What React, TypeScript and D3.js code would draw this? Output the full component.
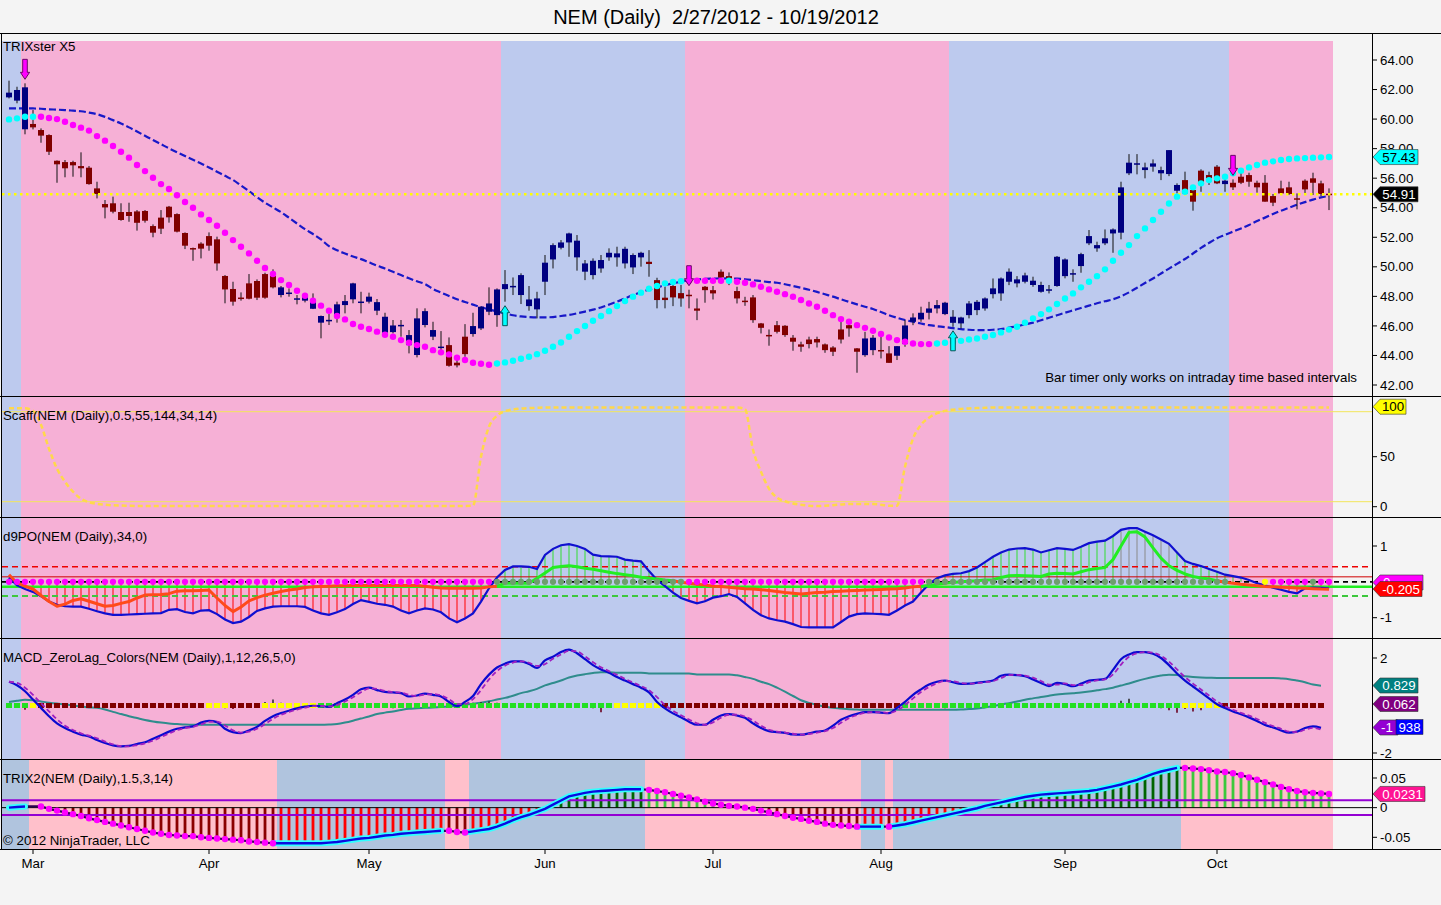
import React from "react";
import * as d3 from "d3";

const FONT = '"Liberation Sans", Arial, Helvetica, sans-serif';
const FS = 13.3;

// ---------- price bars ----------
const OPEN = [
  61.47, 61.25, 59.31, 59.67, 59.26, 58.92, 57.18, 57.09, 57.09, 56.82,
  56.71, 55.31, 54.25, 54.30, 53.71, 53.71, 53.75, 53.78, 52.76, 53.33,
  54.07, 53.57, 52.29, 51.27, 51.57, 52.08, 51.86, 49.38, 48.50, 47.92,
  48.88, 49.04, 49.51, 49.38, 48.09, 48.25, 47.86, 47.71, 47.16, 46.22,
  46.40, 46.74, 47.41, 47.80, 47.64, 47.64, 47.03, 45.54, 45.58, 46.06,
  44.70, 44.03, 46.06, 45.27, 44.59, 44.70, 43.51, 45.27, 45.45, 45.83,
  46.96, 46.73, 48.49, 48.70, 48.09, 47.34, 47.12, 48.99, 50.50, 51.29,
  51.65, 50.64, 49.67, 49.44, 49.89, 50.64, 50.64, 50.23, 49.96, 50.64,
  50.34, 49.10, 47.91, 48.70, 48.22, 48.11, 47.18, 48.65, 48.42, 49.67,
  49.37, 48.36, 47.71, 47.93, 46.17, 45.39, 46.05, 46.01, 45.20, 44.75,
  45.08, 45.11, 44.75, 44.54, 45.76, 46.05, 44.48, 44.02, 44.36, 44.37,
  44.14, 43.98, 44.77, 46.28, 46.44, 46.89, 47.18, 46.80, 46.21, 46.17,
  46.73, 47.07, 47.18, 48.15, 48.20, 48.99, 48.88, 48.99, 48.77, 48.31,
  48.47, 48.70, 49.37, 49.56, 50.05, 51.59, 51.25, 51.59, 52.26, 52.31,
  56.33, 57.00, 56.55, 56.78, 56.33, 56.28, 55.15, 55.87, 55.20, 56.51,
  56.21, 56.78, 55.60, 55.69, 56.10, 56.21, 55.69, 55.69, 54.79, 55.31,
  55.38, 54.64, 55.83, 55.99, 55.65, 54.95,
];
const HIGH = [
  62.60, 62.19, 62.42, 60.61, 59.37, 58.97, 57.20, 57.23, 57.18, 57.75,
  56.82, 55.76, 54.52, 54.75, 54.30, 54.34, 53.84, 53.84, 52.87, 53.84,
  54.12, 53.62, 52.33, 51.30, 51.66, 52.33, 52.04, 49.44, 48.99, 48.27,
  49.51, 49.15, 49.60, 49.83, 48.70, 48.54, 48.09, 48.20, 48.20, 46.70,
  46.80, 47.64, 48.09, 48.92, 48.31, 48.25, 47.82, 46.89, 46.40, 46.40,
  45.72, 47.19, 47.19, 46.28, 45.65, 45.22, 43.73, 46.12, 46.89, 47.32,
  48.61, 48.54, 49.78, 49.28, 49.56, 48.70, 48.31, 50.80, 51.59, 51.81,
  52.31, 52.15, 50.46, 50.57, 50.80, 51.25, 51.36, 51.36, 50.91, 51.02,
  51.13, 49.26, 48.65, 48.88, 48.77, 48.45, 47.86, 48.70, 48.70, 49.82,
  49.62, 48.65, 47.97, 48.09, 46.20, 45.76, 46.33, 46.05, 45.38, 44.93,
  45.27, 45.27, 44.81, 44.63, 46.28, 46.39, 44.50, 45.60, 45.38, 45.27,
  44.63, 44.63, 46.39, 46.85, 47.30, 47.63, 47.75, 47.63, 47.07, 46.62,
  47.68, 47.75, 47.93, 49.21, 49.28, 49.89, 49.37, 49.60, 49.33, 48.99,
  48.77, 50.73, 50.57, 49.83, 50.95, 52.49, 51.70, 52.53, 52.60, 55.76,
  57.63, 57.63, 57.05, 57.27, 56.78, 57.90, 55.65, 56.44, 55.42, 56.60,
  56.44, 56.89, 55.99, 55.92, 56.60, 56.37, 55.83, 56.21, 54.93, 55.83,
  55.76, 54.97, 55.92, 56.37, 55.83, 55.31,
];
const LOW = [
  61.40, 61.07, 58.97, 59.30, 58.40, 57.57, 55.69, 56.06, 56.10, 56.06,
  55.56, 54.63, 53.28, 53.62, 53.12, 53.05, 52.45, 52.99, 52.00, 52.22,
  52.99, 52.33, 51.20, 50.41, 50.57, 51.09, 49.74, 47.53, 47.37, 47.71,
  47.80, 47.75, 47.84, 48.54, 47.93, 47.98, 47.46, 47.59, 47.14, 45.16,
  46.06, 46.22, 46.85, 47.53, 46.85, 47.52, 46.73, 45.38, 45.49, 45.27,
  44.14, 43.87, 45.90, 45.04, 44.25, 43.24, 43.19, 43.91, 45.27, 45.72,
  46.73, 45.94, 47.64, 48.09, 47.48, 47.03, 46.51, 48.09, 49.89, 51.18,
  50.68, 49.74, 49.10, 49.15, 49.60, 50.41, 50.01, 49.89, 49.51, 50.01,
  49.33, 47.19, 47.19, 47.34, 47.30, 47.19, 46.39, 47.57, 47.79, 49.10,
  48.76, 47.52, 47.36, 46.21, 45.49, 44.66, 45.49, 45.26, 44.32, 44.25,
  44.48, 44.54, 44.18, 43.96, 44.81, 45.27, 42.83, 43.91, 44.02, 43.80,
  43.50, 43.69, 44.59, 46.05, 46.28, 46.44, 46.85, 46.73, 45.94, 45.83,
  46.51, 46.73, 47.03, 47.86, 47.70, 48.76, 48.61, 48.88, 48.65, 48.25,
  48.20, 48.65, 49.22, 48.99, 49.60, 51.47, 51.02, 51.47, 50.95, 51.86,
  56.21, 56.26, 55.99, 56.44, 55.87, 56.14, 54.97, 54.93, 53.80, 55.08,
  55.54, 55.60, 55.08, 55.20, 55.60, 55.42, 55.02, 54.41, 54.11, 54.93,
  54.86, 53.89, 54.86, 54.86, 54.79, 53.84,
];
const CLOSE = [
  61.79, 61.97, 62.15, 59.44, 58.88, 57.79, 56.94, 56.67, 56.87, 56.67,
  55.60, 54.93, 54.02, 53.73, 53.17, 53.44, 52.98, 53.12, 52.31, 52.58,
  53.35, 52.38, 51.43, 51.25, 51.23, 51.43, 50.23, 48.47, 47.64, 47.91,
  47.84, 47.91, 47.91, 48.61, 48.61, 48.26, 47.87, 48.02, 47.80, 46.67,
  46.41, 47.46, 47.68, 48.88, 47.65, 47.98, 47.61, 46.62, 46.03, 46.07,
  45.38, 46.51, 47.00, 45.72, 44.60, 43.30, 43.33, 44.09, 45.99, 47.30,
  47.52, 48.47, 48.83, 48.71, 49.44, 47.79, 47.86, 50.28, 51.47, 51.65,
  52.26, 51.77, 50.23, 50.41, 50.46, 50.95, 50.91, 51.22, 50.80, 50.95,
  50.19, 47.75, 47.75, 47.93, 47.86, 48.10, 47.03, 48.42, 48.20, 49.28,
  49.21, 47.86, 47.70, 46.39, 45.87, 45.38, 45.60, 45.38, 44.93, 44.59,
  44.77, 44.88, 44.36, 44.25, 45.08, 45.83, 44.25, 45.15, 45.20, 44.36,
  43.50, 44.63, 46.03, 46.57, 46.89, 47.18, 47.41, 47.57, 46.62, 46.57,
  47.52, 47.63, 47.86, 48.54, 49.21, 49.67, 49.15, 49.42, 49.06, 48.77,
  48.48, 50.68, 50.50, 49.57, 50.86, 52.08, 51.47, 51.93, 52.53, 55.38,
  57.05, 57.01, 56.73, 57.00, 56.55, 57.90, 55.54, 54.97, 54.41, 55.65,
  55.99, 55.65, 55.83, 55.38, 55.69, 55.76, 55.38, 54.41, 54.34, 54.97,
  54.93, 54.63, 55.24, 55.69, 54.93, 54.91,
];

// ---------- TRIXster overlays ----------
const TRIXSTER_MA = [
  60.73, 60.73, 60.73, 60.72, 60.70, 60.66, 60.64, 60.61, 60.57, 60.53,
  60.44, 60.33, 60.15, 59.93, 59.70, 59.44, 59.16, 58.87, 58.58, 58.30,
  58.02, 57.76, 57.50, 57.25, 57.00, 56.72, 56.44, 56.16, 55.88, 55.50,
  55.12, 54.72, 54.34, 54.02, 53.70, 53.32, 52.93, 52.55, 52.22, 51.85,
  51.40, 51.12, 50.90, 50.70, 50.52, 50.30, 50.08, 49.88, 49.66, 49.44,
  49.22, 49.02, 48.84, 48.50, 48.26, 48.03, 47.80, 47.62, 47.44, 47.26,
  47.12, 46.98, 46.86, 46.72, 46.64, 46.60, 46.58, 46.58, 46.60, 46.67,
  46.74, 46.85, 46.97, 47.10, 47.25, 47.44, 47.64, 47.86, 48.09, 48.28,
  48.46, 48.60, 48.76, 48.88, 49.00, 49.08, 49.14, 49.18, 49.20, 49.22,
  49.22, 49.20, 49.16, 49.10, 49.03, 48.97, 48.92, 48.82, 48.70, 48.58,
  48.45, 48.30, 48.14, 47.98, 47.80, 47.63, 47.46, 47.30, 47.15, 46.94,
  46.72, 46.55, 46.40, 46.28, 46.16, 46.05, 45.98, 45.92, 45.85, 45.78,
  45.74, 45.72, 45.72, 45.74, 45.78, 45.88, 45.98, 46.10, 46.22, 46.38,
  46.55, 46.72, 46.89, 47.05, 47.21, 47.37, 47.53, 47.67, 47.80, 48.00,
  48.27, 48.58, 48.90, 49.21, 49.55, 49.88, 50.20, 50.53, 50.90, 51.28,
  51.62, 51.93, 52.16, 52.38, 52.60, 52.83, 53.10, 53.33, 53.57, 53.80,
  54.00, 54.20, 54.38, 54.55, 54.70, 54.79,
];
const TRIXSTER_DOTS = [
  59.98, 60.05, 60.16, 60.16, 60.16, 60.07, 60.00, 59.82, 59.60, 59.42,
  59.22, 58.85, 58.54, 58.18, 57.79, 57.39, 56.89, 56.48, 56.03, 55.60,
  55.27, 54.84, 54.39, 54.00, 53.55, 53.17, 52.78, 52.31, 51.81, 51.36,
  50.91, 50.41, 49.92, 49.51, 49.10, 48.77, 48.38, 48.04, 47.71, 47.37,
  47.03, 46.67, 46.44, 46.13, 45.94, 45.79, 45.61, 45.40, 45.27, 45.04,
  44.86, 44.70, 44.59, 44.36, 44.21, 44.07, 43.85, 43.69, 43.51, 43.44,
  43.37, 43.46, 43.53, 43.64, 43.78, 43.91, 44.09, 44.32, 44.59, 44.88,
  45.27, 45.65, 45.99, 46.35, 46.67, 47.00, 47.34, 47.68, 47.98, 48.25,
  48.52, 48.70, 48.88, 48.97, 49.02, 49.05, 49.06, 49.06, 49.06, 49.06,
  49.06, 48.99, 48.92, 48.81, 48.65, 48.47, 48.31, 48.15, 47.97, 47.75,
  47.52, 47.30, 47.03, 46.73, 46.46, 46.28, 46.05, 45.87, 45.67, 45.45,
  45.22, 45.04, 44.93, 44.81, 44.77, 44.77, 44.81, 44.86, 44.93, 44.99,
  45.08, 45.15, 45.27, 45.38, 45.56, 45.75, 45.94, 46.22, 46.51, 46.80,
  47.12, 47.48, 47.86, 48.20, 48.61, 48.99, 49.37, 49.83, 50.41, 50.95,
  51.47, 52.08, 52.60, 53.17, 53.73, 54.29, 54.75, 55.08, 55.38, 55.65,
  55.87, 55.99, 56.10, 56.33, 56.51, 56.73, 56.89, 57.05, 57.14, 57.23,
  57.30, 57.34, 57.36, 57.39, 57.41, 57.43,
];
const LAST_PRICE = 54.91;

// ---------- Scaff ----------
const SCAFF = [
  98.5, 98.5, 98.4, 96, 82, 58, 38, 25, 15, 8,
  4.5, 2.8, 2.0, 1.4, 1.1, 0.9, 0.7, 0.7, 0.7, 0.7,
  0.7, 0.7, 0.7, 0.7, 0.7, 0.7, 0.7, 0.7, 0.7, 0.7,
  0.7, 0.7, 0.7, 0.7, 0.7, 0.7, 0.7, 0.7, 0.7, 0.7,
  0.7, 0.7, 0.7, 0.7, 0.7, 0.7, 0.7, 0.7, 0.7, 0.7,
  0.7, 0.7, 0.7, 0.7, 0.7, 0.7, 0.7, 0.7, 1.0, 50,
  80, 91, 95.5, 97.2, 98.1, 98.6, 98.9, 99.2, 99.2, 99.2,
  99.2, 99.2, 99.2, 99.2, 99.2, 99.2, 99.2, 99.2, 99.2, 99.2,
  99.2, 99.2, 99.2, 99.2, 99.2, 99.2, 99.2, 99.2, 99.2, 99.2,
  99.2, 99.2, 97.5, 57, 35, 18, 9, 5.5, 3.2, 2.0,
  1.0, 0.7, 1.0, 1.5, 2.2, 2.7, 2.8, 2.8, 2.6, 2.0,
  1.0, 1.0, 40, 68, 82, 89, 93.5, 95.8, 97, 97.8,
  98.3, 98.6, 98.9, 99.2, 99.2, 99.2, 99.2, 99.2, 99.2, 99.2,
  99.2, 99.2, 99.2, 99.2, 99.2, 99.2, 99.2, 99.2, 99.2, 99.2,
  99.2, 99.2, 99.2, 99.2, 99.2, 99.2, 99.2, 99.2, 99.2, 99.2,
  99.2, 99.2, 99.2, 99.2, 99.2, 99.2, 99.2, 99.2, 99.2, 99.2,
  99.2, 99.2, 99.2, 99.2, 99.2, 99.2,
];

// ---------- d9PO ----------
const D9_MAIN = [
  0.12, -0.10, -0.20, -0.28, -0.40, -0.55, -0.64, -0.68, -0.69, -0.69,
  -0.75, -0.82, -0.88, -0.92, -0.92, -0.91, -0.90, -0.89, -0.88, -0.87,
  -0.78, -0.76, -0.84, -0.88, -0.80, -0.79, -0.90, -1.05, -1.15, -1.11,
  -0.98, -0.81, -0.74, -0.69, -0.68, -0.68, -0.68, -0.70, -0.80, -0.88,
  -0.92, -0.85, -0.76, -0.62, -0.51, -0.56, -0.61, -0.64, -0.69, -0.80,
  -0.88, -0.80, -0.74, -0.77, -0.85, -1.02, -1.13, -1.02, -0.88, -0.55,
  -0.18, 0.12, 0.33, 0.43, 0.43, 0.42, 0.36, 0.75, 0.92, 1.02,
  1.05, 1.00, 0.92, 0.76, 0.72, 0.71, 0.70, 0.62, 0.59, 0.57,
  0.30, 0.05, -0.12, -0.30, -0.45, -0.53, -0.60, -0.54, -0.44, -0.40,
  -0.34, -0.42, -0.60, -0.78, -0.93, -1.02, -1.07, -1.11, -1.18, -1.26,
  -1.27, -1.27, -1.27, -1.27, -1.12, -0.97, -0.90, -0.88, -0.89, -0.90,
  -0.92, -0.80, -0.66, -0.55, -0.30, -0.06, 0.10, 0.18, 0.22, 0.24,
  0.30, 0.40, 0.55, 0.70, 0.82, 0.90, 0.93, 0.94, 0.90, 0.82,
  0.88, 0.94, 0.92, 0.89, 0.98, 1.08, 1.12, 1.15, 1.28, 1.45,
  1.50, 1.50, 1.40, 1.30, 1.18, 1.06, 0.82, 0.58, 0.50, 0.44,
  0.36, 0.28, 0.20, 0.16, 0.12, 0.05, -0.04, -0.10, -0.16, -0.22,
  -0.28, -0.32, -0.18, -0.16, -0.17, -0.18,
];
const D9_SIGNAL = [
  0.20, -0.03, -0.12, -0.20, -0.38, -0.55, -0.68, -0.62, -0.52, -0.47,
  -0.54, -0.61, -0.68, -0.66, -0.60, -0.55, -0.45, -0.37, -0.36, -0.35,
  -0.33, -0.26, -0.25, -0.25, -0.24, -0.23, -0.45, -0.66, -0.83, -0.70,
  -0.53, -0.44, -0.37, -0.32, -0.27, -0.23, -0.20, -0.16, -0.14, -0.13,
  -0.12, -0.11, -0.11, -0.10, -0.10, -0.10, -0.10, -0.10, -0.10, -0.10,
  -0.10, -0.10, -0.12, -0.15, -0.17, -0.18, -0.18, -0.18, -0.18, -0.17,
  -0.14, -0.12, -0.04, -0.04, -0.04, -0.04, 0.10, 0.25, 0.40, 0.43,
  0.45, 0.42, 0.38, 0.35, 0.31, 0.27, 0.23, 0.20, 0.17, 0.13,
  0.10, 0.08, 0.05, 0.03, -0.01, -0.04, -0.07, -0.09, -0.12, -0.13,
  -0.15, -0.17, -0.19, -0.20, -0.22, -0.24, -0.27, -0.30, -0.32, -0.34,
  -0.32, -0.30, -0.29, -0.27, -0.26, -0.25, -0.24, -0.23, -0.22, -0.21,
  -0.20, -0.19, -0.17, -0.14, -0.12, -0.10, -0.07, -0.04, -0.02, 0.00,
  0.02, 0.03, 0.05, 0.06, 0.12, 0.17, 0.18, 0.17, 0.16, 0.15,
  0.22, 0.24, 0.23, 0.22, 0.28, 0.34, 0.37, 0.40, 0.62, 1.00,
  1.38, 1.40, 1.25, 0.95, 0.66, 0.45, 0.32, 0.22, 0.15, 0.11,
  0.08, 0.03, -0.01, -0.04, -0.07, -0.09, -0.11, -0.13, -0.14, -0.15,
  -0.16, -0.17, -0.18, -0.19, -0.20, -0.205,
];
const D9_LEVELS = { upperDash: 0.42, upperThin: 0.14, lowerSolid: -0.135, lowerDash: -0.395 };

// ---------- MACD zero lag ----------
const MACD = [
  1.00, 0.85, 0.60, 0.25, -0.10, -0.45, -0.75, -0.95, -1.10, -1.23,
  -1.30, -1.45, -1.58, -1.68, -1.72, -1.70, -1.62, -1.55, -1.40, -1.25,
  -1.10, -0.98, -0.92, -0.88, -0.72, -0.65, -0.70, -0.98, -1.12, -1.16,
  -1.05, -0.90, -0.65, -0.45, -0.32, -0.22, -0.12, -0.05, -0.01, -0.03,
  -0.06, 0.10, 0.25, 0.45, 0.68, 0.75, 0.65, 0.57, 0.55, 0.52,
  0.38, 0.42, 0.50, 0.45, 0.38, 0.15, -0.03, 0.15, 0.40, 0.90,
  1.30, 1.60, 1.76, 1.86, 1.86, 1.75, 1.58, 1.90, 2.05, 2.25,
  2.35, 2.20, 1.95, 1.70, 1.52, 1.38, 1.20, 1.05, 0.90, 0.75,
  0.55, 0.15, -0.12, -0.33, -0.50, -0.68, -0.81, -0.81, -0.60, -0.42,
  -0.36, -0.42, -0.52, -0.75, -0.95, -1.08, -1.12, -1.15, -1.22, -1.23,
  -1.17, -1.10, -1.05, -0.85, -0.60, -0.45, -0.35, -0.28, -0.28, -0.30,
  -0.32, -0.10, 0.15, 0.45, 0.68, 0.88, 1.00, 1.05, 0.98, 0.91,
  0.92, 0.96, 1.00, 1.05, 1.25, 1.30, 1.28, 1.23, 1.10, 0.95,
  0.82, 0.95, 0.90, 0.81, 0.92, 1.05, 1.08, 1.12, 1.50, 1.95,
  2.15, 2.25, 2.25, 2.18, 2.00, 1.70, 1.35, 1.05, 0.80, 0.55,
  0.30, 0.05, -0.11, -0.25, -0.37, -0.50, -0.65, -0.82, -0.92, -1.05,
  -1.14, -1.10, -0.95, -0.88, -0.94,
];
const MACD_SIGNAL = [
  1.00, 0.95, 0.75, 0.45, 0.10, -0.25, -0.58, -0.85, -1.03, -1.17,
  -1.27, -1.38, -1.52, -1.64, -1.71, -1.72, -1.67, -1.59, -1.48, -1.33,
  -1.18, -1.04, -0.95, -0.90, -0.80, -0.69, -0.68, -0.84, -1.05, -1.14,
  -1.10, -0.98, -0.78, -0.56, -0.39, -0.27, -0.17, -0.09, -0.03, -0.02,
  -0.04, 0.02, 0.17, 0.35, 0.56, 0.72, 0.70, 0.61, 0.56, 0.54,
  0.45, 0.40, 0.46, 0.48, 0.42, 0.27, 0.06, 0.06, 0.27, 0.65,
  1.10, 1.45, 1.68, 1.81, 1.86, 1.80, 1.67, 1.74, 1.97, 2.15,
  2.30, 2.28, 2.07, 1.82, 1.61, 1.45, 1.29, 1.12, 0.97, 0.82,
  0.65, 0.35, 0.02, -0.22, -0.41, -0.59, -0.75, -0.81, -0.71, -0.51,
  -0.39, -0.39, -0.47, -0.63, -0.85, -1.02, -1.10, -1.14, -1.19, -1.23,
  -1.20, -1.14, -1.08, -0.95, -0.73, -0.53, -0.40, -0.31, -0.28, -0.29,
  -0.31, -0.21, 0.02, 0.30, 0.57, 0.78, 0.94, 1.03, 1.02, 0.95,
  0.92, 0.94, 0.98, 1.03, 1.15, 1.28, 1.29, 1.26, 1.17, 1.03,
  0.88, 0.88, 0.93, 0.86, 0.86, 0.98, 1.06, 1.10, 1.31, 1.72,
  2.05, 2.20, 2.25, 2.22, 2.09, 1.85, 1.52, 1.20, 0.92, 0.67,
  0.42, 0.17, -0.03, -0.18, -0.31, -0.43, -0.57, -0.73, -0.87, -0.98,
  -1.10, -1.12, -1.02, -0.94, -1.02,
];
const MACD_AVG = [
  0.15, 0.20, 0.24, 0.22, 0.17, 0.12, 0.08, 0.05, 0.00, -0.04,
  -0.08, -0.10, -0.17, -0.27, -0.36, -0.45, -0.53, -0.61, -0.67, -0.72,
  -0.76, -0.78, -0.80, -0.81, -0.81, -0.81, -0.81, -0.81, -0.81, -0.81,
  -0.81, -0.81, -0.81, -0.81, -0.81, -0.81, -0.81, -0.81, -0.81, -0.81,
  -0.80, -0.78, -0.72, -0.64, -0.55, -0.46, -0.36, -0.30, -0.25, -0.19,
  -0.14, -0.12, -0.10, -0.08, -0.06, -0.04, -0.02, 0.03, 0.07, 0.12,
  0.18, 0.25, 0.32, 0.41, 0.52, 0.60, 0.70, 0.85, 0.95, 1.05,
  1.18, 1.26, 1.32, 1.37, 1.40, 1.40, 1.38, 1.38, 1.38, 1.38,
  1.35, 1.35, 1.35, 1.35, 1.35, 1.35, 1.31, 1.31, 1.31, 1.31,
  1.31, 1.27, 1.20, 1.12, 1.00, 0.90, 0.75, 0.58, 0.40, 0.22,
  0.11, 0.03, -0.05, -0.10, -0.13, -0.16, -0.17, -0.18, -0.18, -0.18,
  -0.18, -0.18, -0.18, -0.18, -0.18, -0.18, -0.18, -0.18, -0.18, -0.17,
  -0.15, -0.13, -0.08, -0.03, 0.04, 0.10, 0.17, 0.24, 0.30, 0.36,
  0.41, 0.46, 0.49, 0.52, 0.55, 0.59, 0.64, 0.69, 0.75, 0.84,
  0.93, 1.03, 1.12, 1.20, 1.26, 1.30, 1.28, 1.23, 1.20, 1.18,
  1.17, 1.16, 1.16, 1.16, 1.16, 1.16, 1.16, 1.16, 1.16, 1.14,
  1.11, 1.05, 0.98, 0.88, 0.829,
];
const MACD_HIST_BARS = [1, 2, 3, 5, 6, 27, 28, 29, 32, 33, 34, 47, 48, 57, 58, 59, 60, 61, 66, 73, 74, 75, 117, 118, 128, 129, 139, 140, 141, 144, 145, 146, 147, 148, 149];
const MACD_HIST_VALS = [-0.10, -0.18, -0.05, -0.12, -0.08, -0.12, -0.15, -0.10, 0.15, 0.25, 0.12, -0.08, -0.12, 0.10, 0.12, 0.15, 0.18, 0.12, -0.12, -0.12, -0.28, -0.10, -0.12, -0.10, -0.05, -0.08, 0.20, 0.28, 0.10, -0.12, -0.20, -0.30, -0.15, -0.25, -0.20];

// ---------- TRIX2 ----------
const TRIX = [
  0.000, 0.001, 0.002, 0.002, 0.002, -0.002, -0.005, -0.008, -0.011, -0.014,
  -0.018, -0.021, -0.024, -0.027, -0.030, -0.033, -0.036, -0.039, -0.042, -0.044,
  -0.046, -0.047, -0.048, -0.048, -0.050, -0.051, -0.052, -0.053, -0.054, -0.055,
  -0.057, -0.058, -0.059, -0.060, -0.060, -0.060, -0.060, -0.060, -0.060, -0.060,
  -0.059, -0.058, -0.056, -0.054, -0.052, -0.051, -0.049, -0.047, -0.046, -0.044,
  -0.043, -0.042, -0.041, -0.040, -0.039, -0.039, -0.041, -0.042, -0.040, -0.038,
  -0.036, -0.032, -0.027, -0.021, -0.016, -0.012, -0.007, -0.002, 0.005, 0.012,
  0.019, 0.022, 0.025, 0.027, 0.028, 0.029, 0.030, 0.031, 0.031, 0.031,
  0.030, 0.028, 0.026, 0.023, 0.020, 0.017, 0.014, 0.010, 0.007, 0.005,
  0.003, 0.002, 0.000, -0.002, -0.005, -0.008, -0.011, -0.014, -0.017, -0.019,
  -0.022, -0.024, -0.027, -0.029, -0.030, -0.031, -0.032, -0.032, -0.032, -0.032,
  -0.032, -0.030, -0.028, -0.025, -0.022, -0.019, -0.016, -0.013, -0.010, -0.007,
  -0.004, -0.001, 0.003, 0.006, 0.009, 0.012, 0.015, 0.018, 0.020, 0.022,
  0.023, 0.024, 0.025, 0.026, 0.027, 0.028, 0.030, 0.033, 0.036, 0.039,
  0.043, 0.047, 0.052, 0.057, 0.061, 0.064, 0.067, 0.067, 0.066, 0.065,
  0.063, 0.061, 0.060, 0.058, 0.055, 0.051, 0.047, 0.043, 0.039, 0.035,
  0.031, 0.028, 0.026, 0.025, 0.024, 0.0231,
];
const TRIX_BAND = 0.0125;

// ---------- states / runs [from, to, state] ----------
type Run = [number, number, string];
const MAIN_BG_RUNS: Run[] = [[0, 1, "b"], [2, 61, "p"], [62, 84, "b"], [85, 117, "p"], [118, 152, "b"], [153, 165, "p"]];
const TRIX_RUNS: Run[] = [[0, 2, "r"], [3, 33, "f"], [34, 54, "r"], [55, 57, "f"], [58, 79, "r"], [80, 106, "f"], [107, 109, "r"], [110, 110, "f"], [111, 146, "r"], [147, 165, "f"]];
const DOT_RUNS: Run[] = [[0, 3, "c"], [4, 60, "m"], [61, 84, "c"], [85, 89, "m"], [90, 90, "c"], [91, 115, "m"], [116, 165, "c"]];
const D9_DOT_RUNS: Run[] = [[0, 60, "m"], [61, 84, "g"], [85, 114, "m"], [115, 152, "g"], [157, 157, "y"], [158, 162, "m"], [163, 163, "g"], [164, 165, "m"]];
const D9_SIG_RUNS: Run[] = [[0, 0, "g"], [1, 61, "o"], [62, 83, "g"], [84, 114, "o"], [115, 151, "g"], [152, 165, "o"]];
const D9_GREY_HIST: Run[] = [[139, 145, "grey"]];
const MACD_ZERO_RUNS: Run[] = [[0, 2, "g"], [3, 3, "y"], [4, 24, "r"], [25, 27, "y"], [28, 31, "r"], [32, 38, "y"], [39, 75, "g"], [76, 81, "y"], [82, 111, "r"], [112, 146, "g"], [147, 151, "y"], [152, 164, "r"]];

const DOWN_ARROWS = [2, 85, 153];
const UP_ARROWS = [62, 118];
const MONTHS = ["Mar", "Apr", "May", "Jun", "Jul", "Aug", "Sep", "Oct"];
const MONTH_BARS = [3, 25, 45, 67, 88, 109, 132, 151];
const PRICE_TICKS = [42, 44, 46, 48, 50, 52, 54, 56, 58, 60, 62, 64];

// ---------- layout ----------
const AXIS_X = 1372;
const LEFT = 2;
const P = {
  main: [41, 396],
  scaff: [397, 517],
  d9: [518, 638],
  macd: [639, 759],
  trix: [760, 849],
};

const N = OPEN.length;
const x = d3.scaleLinear().domain([0, N - 1]).range([9, 9 + 8 * (N - 1)]);
const yMain = d3.scaleLinear().domain([42, 64]).range([385, 60]);
const yScaff = d3.scaleLinear().domain([0, 100]).range([506.7, 406.7]);
const yD9 = d3.scaleLinear().domain([-1, 1]).range([617.7, 546]);
const yMacd = d3.scaleLinear().domain([-2, 2]).range([753, 658]);
const yTrix = d3.scaleLinear().domain([-0.05, 0.05]).range([837.3, 778]);

function stateAt(runs: Run[], i: number): string | null {
  for (const r of runs) if (i >= r[0] && i <= r[1]) return r[2];
  return null;
}

const C = {
  pink: "#F6B0D6",
  blue: "#BDCAEE",
  tPink: "#FFC0CB",
  tBlue: "#B0C4DE",
  navy: "#000080",
  dred: "#800000",
};

function lineOf(vals: number[], y: d3.ScaleLinear<number, number>, from: number, to: number, curve = d3.curveLinear) {
  const idx = d3.range(Math.max(0, from), Math.min(vals.length - 1, to) + 1);
  return d3.line<number>().x((i) => x(i)).y((i) => y(vals[i])).curve(curve)(idx) || "";
}

function Backgrounds({ runs, top, bottom, colors }: { runs: Run[]; top: number; bottom: number; colors: Record<string, string> }) {
  return (
    <g>
      {runs.map((r, k) => {
        const x0 = r[0] === 0 ? LEFT : x(r[0]) - 4;
        const x1 = x(r[1]) + 4;
        return <rect key={k} x={x0} y={top} width={x1 - x0} height={bottom - top} fill={colors[r[2]]} />;
      })}
    </g>
  );
}

function Tag({ y, w, fill, text, tc, x0 = 1373, anchor = "middle", tx }: any) {
  const h = 7.5;
  return (
    <g>
      <polygon points={`${x0},${y} ${x0 + 7},${y - h} ${x0 + w},${y - h} ${x0 + w},${y + h} ${x0 + 7},${y + h}`} fill={fill} stroke="#333" strokeWidth={0.6} />
      <text x={tx !== undefined ? tx : x0 + 7 + (w - 7) / 2} y={y + 4.7} textAnchor={anchor} fill={tc} fontSize={FS}>{text}</text>
    </g>
  );
}

function AxisLabel({ y, text }: { y: number; text: string }) {
  return (
    <g>
      <line x1={AXIS_X} x2={AXIS_X + 5} y1={y} y2={y} stroke="#000" strokeWidth={1} />
      <text x={AXIS_X + 8} y={y + 4.6} fontSize={FS} fill="#000">{text}</text>
    </g>
  );
}

function DownArrow({ cx, tip, fill, stroke }: any) {
  const L = 20, hl = 7, hw = 4.6, sw = 2.3;
  const pts = [
    [cx - sw, tip - L], [cx + sw, tip - L], [cx + sw, tip - hl], [cx + hw, tip - hl],
    [cx, tip], [cx - hw, tip - hl], [cx - sw, tip - hl],
  ];
  return <polygon points={pts.map((p) => p.join(",")).join(" ")} fill={fill} stroke={stroke} strokeWidth={0.9} />;
}
function UpArrow({ cx, tip, fill, stroke }: any) {
  const L = 20, hl = 7, hw = 4.6, sw = 2.3;
  const pts = [
    [cx - sw, tip + L], [cx + sw, tip + L], [cx + sw, tip + hl], [cx + hw, tip + hl],
    [cx, tip], [cx - hw, tip + hl], [cx - sw, tip + hl],
  ];
  return <polygon points={pts.map((p) => p.join(",")).join(" ")} fill={fill} stroke={stroke} strokeWidth={0.9} />;
}

export default function App() {
  const bars = d3.range(N);
  const macdBars = d3.range(MACD.length);
  const clip = (id: string, p: number[]) => (
    <clipPath id={id}>
      <rect x={LEFT} y={p[0]} width={AXIS_X - LEFT} height={p[1] - p[0]} />
    </clipPath>
  );

  const trixHistColor = (i: number) => {
    const s = stateAt(TRIX_RUNS, i);
    const v = TRIX[i];
    if (v < 0) return s === "r" ? "#FF0000" : "#8B0000";
    return s === "r" ? "#006400" : "#3CC83C";
  };

  const macdZeroColor: Record<string, string> = { g: "#22E022", y: "#FFFF00", r: "#800000" };
  const d9DotColor: Record<string, string> = { m: "#FF00FF", g: "#6E9E6E", y: "#FFFF00" };

  return (
    <div style={{ position: "absolute", left: 0, top: 0 }}>
      <svg width={1441} height={905} style={{ display: "block", fontFamily: FONT }}>
        <defs>
          {clip("cMain", P.main)}
          {clip("cScaff", P.scaff)}
          {clip("cD9", P.d9)}
          {clip("cMacd", P.macd)}
          {clip("cTrix", P.trix)}
        </defs>
        <rect x={0} y={0} width={1441} height={905} fill="#F4F4F4" />

        {/* Title */}
        <text x={716} y={24} textAnchor="middle" fontSize={20} fill="#000" style={{ whiteSpace: "pre" }}>{"NEM (Daily)  2/27/2012 - 10/19/2012"}</text>

        {/* ============ MAIN PANEL ============ */}
        <Backgrounds runs={MAIN_BG_RUNS} top={P.main[0]} bottom={P.main[1]} colors={{ b: C.blue, p: C.pink }} />
        <g clipPath="url(#cMain)">
          <path d={lineOf(TRIXSTER_MA, yMain, 0, N - 1, d3.curveMonotoneX)} fill="none" stroke="#1818C8" strokeWidth={2.2} strokeDasharray="7,3" />
          {bars.map((i) => {
            const o = OPEN[i], c = CLOSE[i];
            const up = c >= o;
            const yt = yMain(Math.max(o, c));
            const yb = yMain(Math.min(o, c));
            return (
              <g key={i}>
                <line x1={x(i)} x2={x(i)} y1={yMain(HIGH[i])} y2={yMain(LOW[i])} stroke="#101010" strokeWidth={1} />
                <rect x={x(i) - 3} y={yt} width={6} height={Math.max(1.5, yb - yt)} fill={up ? C.navy : C.dred} />
              </g>
            );
          })}
          <line x1={LEFT} x2={AXIS_X} y1={yMain(LAST_PRICE)} y2={yMain(LAST_PRICE)} stroke="#FFFF00" strokeWidth={2.5} strokeDasharray="2.5,3.5" />
          {bars.map((i) => (
            <circle key={i} cx={x(i)} cy={yMain(TRIXSTER_DOTS[i])} r={3.2} fill={stateAt(DOT_RUNS, i) === "c" ? "#00FFFF" : "#FF00FF"} />
          ))}
          {DOWN_ARROWS.map((b) => (
            <DownArrow key={b} cx={x(b)} tip={yMain(HIGH[b]) - 4} fill="#FF00FF" stroke="#5A005A" />
          ))}
          {UP_ARROWS.map((b) => (
            <UpArrow key={b} cx={x(b)} tip={yMain(LOW[b]) + 4} fill="#00FFFF" stroke="#004848" />
          ))}
        </g>
        <text x={3} y={51} fontSize={FS} fill="#000">TRIXster X5</text>
        <text x={1357} y={382} fontSize={FS} fill="#000" textAnchor="end">Bar timer only works on intraday time based intervals</text>
        {PRICE_TICKS.map((v) => <AxisLabel key={v} y={yMain(v)} text={v.toFixed(2)} />)}
        <Tag y={yMain(TRIXSTER_DOTS[N - 1])} w={45} fill="#00FFFF" tc="#000" text={TRIXSTER_DOTS[N - 1].toFixed(2)} />
        <Tag y={yMain(LAST_PRICE)} w={45} fill="#000" tc="#FFF" text={LAST_PRICE.toFixed(2)} />

        {/* ============ SCAFF PANEL ============ */}
        <Backgrounds runs={MAIN_BG_RUNS} top={P.scaff[0]} bottom={P.scaff[1]} colors={{ b: C.blue, p: C.pink }} />
        <g clipPath="url(#cScaff)">
          <line x1={LEFT} x2={AXIS_X} y1={yScaff(95)} y2={yScaff(95)} stroke="#F2E65A" strokeWidth={1} />
          <line x1={LEFT} x2={AXIS_X} y1={yScaff(5)} y2={yScaff(5)} stroke="#F2E65A" strokeWidth={1} />
          <path d={lineOf(SCAFF, yScaff, 0, N - 1, d3.curveMonotoneX)} fill="none" stroke="#FFD84A" strokeWidth={2.5} strokeDasharray="5,3" />
        </g>
        <text x={3} y={420} fontSize={FS} fill="#000">Scaff(NEM (Daily),0.5,55,144,34,14)</text>
        <AxisLabel y={yScaff(50)} text="50" />
        <AxisLabel y={yScaff(0)} text="0" />
        <Tag y={yScaff(100)} w={33} fill="#FFFF00" tc="#000" text="100" />

        {/* ============ d9PO PANEL ============ */}
        <Backgrounds runs={MAIN_BG_RUNS} top={P.d9[0]} bottom={P.d9[1]} colors={{ b: C.blue, p: C.pink }} />
        <g clipPath="url(#cD9)">
          {bars.map((i) => {
            const v = D9_MAIN[i];
            const col = stateAt(D9_GREY_HIST, i) ? "#8A8A8A" : v < 0 ? "#FF0000" : "#33DD33";
            return <line key={i} x1={x(i)} x2={x(i)} y1={yD9(0)} y2={yD9(v)} stroke={col} strokeWidth={1} />;
          })}
          <line x1={LEFT} x2={AXIS_X} y1={yD9(D9_LEVELS.upperDash)} y2={yD9(D9_LEVELS.upperDash)} stroke="#EE0000" strokeWidth={1.6} strokeDasharray="6,4" />
          <line x1={LEFT} x2={AXIS_X} y1={yD9(D9_LEVELS.upperThin)} y2={yD9(D9_LEVELS.upperThin)} stroke="#D00000" strokeWidth={1} />
          <line x1={LEFT} x2={AXIS_X} y1={yD9(D9_LEVELS.lowerDash)} y2={yD9(D9_LEVELS.lowerDash)} stroke="#3CC83C" strokeWidth={1.8} strokeDasharray="6,4" />
          <line x1={LEFT} x2={AXIS_X} y1={yD9(D9_LEVELS.lowerSolid)} y2={yD9(D9_LEVELS.lowerSolid)} stroke="#22EE22" strokeWidth={2.5} />
          <line x1={LEFT} x2={AXIS_X} y1={yD9(0)} y2={yD9(0)} stroke="#000" strokeWidth={1.6} strokeDasharray="5,4" />
          <path d={lineOf(D9_MAIN, yD9, 0, N - 1)} fill="none" stroke="#1010D0" strokeWidth={2.2} />
          {D9_SIG_RUNS.map((r, k) => (
            <path key={k} d={lineOf(D9_SIGNAL, yD9, r[0] - 1, r[1])} fill="none" stroke={r[2] === "g" ? "#22EE22" : "#FF4A1A"} strokeWidth={3} strokeLinejoin="round" />
          ))}
          {bars.map((i) => {
            const s = stateAt(D9_DOT_RUNS, i);
            if (!s) return null;
            return <circle key={i} cx={x(i)} cy={yD9(0)} r={3.1} fill={d9DotColor[s]} />;
          })}
        </g>
        <text x={3} y={541} fontSize={FS} fill="#000">d9PO(NEM (Daily),34,0)</text>
        <AxisLabel y={yD9(1)} text="1" />
        <AxisLabel y={yD9(-1)} text="-1" />
        <Tag y={582.5} w={50} fill="#FF00FF" tc="#FFF" text="0" anchor="start" tx={1383} />
        <Tag y={589} w={49} fill="#FF0000" tc="#FFF" text={D9_SIGNAL[N - 1].toFixed(3)} />

        {/* ============ MACD PANEL ============ */}
        <Backgrounds runs={MAIN_BG_RUNS} top={P.macd[0]} bottom={P.macd[1]} colors={{ b: C.blue, p: C.pink }} />
        <g clipPath="url(#cMacd)">
          <path d={lineOf(MACD_AVG, yMacd, 0, MACD_AVG.length - 1, d3.curveMonotoneX)} fill="none" stroke="#2F8C8C" strokeWidth={2} />
          {MACD_HIST_BARS.map((b, k) => (
            <line key={k} x1={x(b)} x2={x(b)} y1={yMacd(0)} y2={yMacd(MACD_HIST_VALS[k])} stroke={MACD_HIST_VALS[k] < 0 ? "#6A0020" : "#303030"} strokeWidth={1.6} />
          ))}
          {macdBars.map((i) => {
            const s = stateAt(MACD_ZERO_RUNS, i);
            if (!s) return null;
            return <rect key={i} x={x(i) - 3} y={yMacd(0) - 2.5} width={6} height={5} fill={macdZeroColor[s]} />;
          })}
          <path d={lineOf(MACD, yMacd, 0, MACD.length - 1, d3.curveMonotoneX)} fill="none" stroke="#0A0AD0" strokeWidth={2.2} />
          <path d={lineOf(MACD_SIGNAL, yMacd, 0, MACD_SIGNAL.length - 1, d3.curveMonotoneX)} fill="none" stroke="#A020C0" strokeWidth={1.8} strokeDasharray="5,3" />
        </g>
        <text x={3} y={662} fontSize={FS} fill="#000">MACD_ZeroLag_Colors(NEM (Daily),1,12,26,5,0)</text>
        <AxisLabel y={yMacd(2)} text="2" />
        <AxisLabel y={yMacd(-2)} text="-2" />
        <Tag y={685.5} w={45} fill="#008080" tc="#FFF" text={MACD_AVG[MACD_AVG.length - 1].toFixed(3)} />
        <Tag y={704} w={45} fill="#800080" tc="#FFF" text="0.062" />
        <Tag y={727.5} w={25} fill="#9400D3" tc="#FFF" text="-1" tx={1387} anchor="middle" />
        <rect x={1396} y={719.5} width={27} height={15} fill="#0000FF" stroke="#222" strokeWidth={0.5} />
        <text x={1409.5} y={732} textAnchor="middle" fontSize={FS} fill="#FFF">938</text>

        {/* ============ TRIX2 PANEL ============ */}
        <Backgrounds runs={TRIX_RUNS} top={P.trix[0]} bottom={P.trix[1]} colors={{ r: C.tBlue, f: C.tPink }} />
        <g clipPath="url(#cTrix)">
          {bars.map((i) => (
            <rect key={i} x={x(i) - 1.4} y={Math.min(yTrix(0), yTrix(TRIX[i]))} width={2.8} height={Math.abs(yTrix(TRIX[i]) - yTrix(0))} fill={trixHistColor(i)} />
          ))}
          <line x1={LEFT} x2={AXIS_X} y1={yTrix(0)} y2={yTrix(0)} stroke="#000" strokeWidth={1} />
          <line x1={LEFT} x2={AXIS_X} y1={yTrix(TRIX_BAND)} y2={yTrix(TRIX_BAND)} stroke="#9400D3" strokeWidth={2} />
          <line x1={LEFT} x2={AXIS_X} y1={yTrix(-TRIX_BAND)} y2={yTrix(-TRIX_BAND)} stroke="#9400D3" strokeWidth={2} />
          {TRIX_RUNS.filter((r) => r[2] === "f").map((r, k) => (
            <path key={"f" + k} d={lineOf(TRIX, yTrix, r[0] - 1, r[1])} fill="none" stroke="#2B0050" strokeWidth={2.2} />
          ))}
          {TRIX_RUNS.filter((r) => r[2] === "r").map((r, k) => (
            <g key={"r" + k}>
              <path d={lineOf(TRIX, yTrix, r[0] - 1, r[1])} fill="none" stroke="#33FFFF" strokeWidth={6} strokeLinecap="round" />
              <path d={lineOf(TRIX, yTrix, r[0] - 1, r[1])} fill="none" stroke="#0A0AE0" strokeWidth={2.4} />
            </g>
          ))}
          {bars.filter((i) => stateAt(TRIX_RUNS, i) === "f" && i > 3).map((i) => (
            <circle key={i} cx={x(i)} cy={yTrix(TRIX[i])} r={3.2} fill="#FF00FF" />
          ))}
        </g>
        <text x={3} y={783} fontSize={FS} fill="#000">TRIX2(NEM (Daily),1.5,3,14)</text>
        <text x={3} y={845} fontSize={FS} fill="#000">© 2012 NinjaTrader, LLC</text>
        <AxisLabel y={yTrix(0.05)} text="0.05" />
        <AxisLabel y={yTrix(0)} text="0" />
        <AxisLabel y={yTrix(-0.05)} text="-0.05" />
        <Tag y={yTrix(TRIX[N - 1])} w={52} fill="#FF1493" tc="#FFF" text={TRIX[N - 1].toFixed(4)} />

        {/* ============ frame ============ */}
        <line x1={0} x2={1441} y1={33.5} y2={33.5} stroke="#000" strokeWidth={1} />
        {[396.5, 517.5, 638.5, 759.5, 849.5].map((y) => (
          <line key={y} x1={0} x2={1441} y1={y} y2={y} stroke="#000" strokeWidth={1} />
        ))}
        <line x1={1.5} x2={1.5} y1={33.5} y2={849.5} stroke="#000" strokeWidth={1} />
        <line x1={AXIS_X + 0.5} x2={AXIS_X + 0.5} y1={33.5} y2={849.5} stroke="#000" strokeWidth={1} />

        {/* month axis */}
        {MONTH_BARS.map((b, k) => (
          <g key={k}>
            <line x1={x(b)} x2={x(b)} y1={849.5} y2={854} stroke="#000" strokeWidth={1} />
            <text x={x(b)} y={868} fontSize={FS} textAnchor="middle" fill="#000">{MONTHS[k]}</text>
          </g>
        ))}
      </svg>
    </div>
  );
}
